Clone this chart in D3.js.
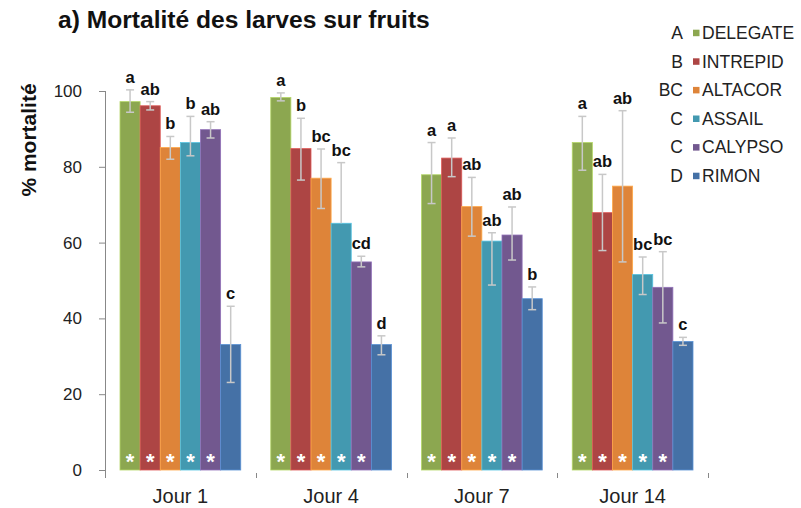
<!DOCTYPE html>
<html><head><meta charset="utf-8">
<script src="https://cdn.jsdelivr.net/npm/d3@7"></script>
<style>body{margin:0;background:#fff;} text{font-family:"Liberation Sans",Arial,sans-serif;}</style>
</head><body>
<svg id="chart" width="801" height="508"></svg>
<script>
// ---- data ----
const days = ["Jour 1", "Jour 4", "Jour 7", "Jour 14"];
const products = ["DELEGATE", "INTREPID", "ALTACOR", "ASSAIL", "CALYPSO", "RIMON"];
const productGroups = ["A", "B", "BC", "C", "C", "D"];
const colors = ["#8ca750", "#ad4544", "#de8439", "#4399b0", "#72588f", "#4571a6"];
// mean % mortality, one array per product, one value per day
const delegate = [97.2, 98.3, 77.9, 86.4];
const intrepid = [96.1, 84.8, 82.3, 67.9];
const altacor  = [85.1, 77.0, 69.5, 74.9];
const assail   = [86.4, 65.1, 60.4, 51.6];
const calypso  = [89.8, 54.9, 62.0, 48.2];
const rimon    = [33.1, 33.1, 45.2, 33.9];
// error bars (upper / lower extent), per product per day
const errUp   = [[3.1, 1.2, 8.5, 6.9], [1.1, 8.0, 5.3, 10.1], [2.9, 7.7, 7.7, 19.9], [6.9, 16.0, 2.2, 4.6], [2.1, 1.5, 7.4, 9.4], [10.1, 2.3, 3.1, 1.1]];
const errDown = [[2.8, 0.9, 7.6, 7.3], [1.1, 8.3, 4.9, 10.0], [3.1, 8.0, 7.8, 20.0], [3.5, 0.0, 11.6, 5.3], [2.2, 1.3, 6.6, 9.4], [10.0, 2.7, 2.9, 1.0]];
// significance letters per day
const letters = [["a","ab","b","b","ab","c"], ["a","b","bc","bc","cd","d"], ["a","a","ab","ab","ab","b"], ["a","ab","ab","bc","bc","c"]];
// asterisk (significant vs. control) per day, per product
const stars = [[1,1,1,1,1,0],[1,1,1,1,1,0],[1,1,1,1,1,0],[1,1,1,1,1,0]];
const yTicks = [0, 20, 40, 60, 80, 100];
const title = "a) Mortalité des larves sur fruits";
const yTitle = "% mortalité";

const values = [delegate, intrepid, altacor, assail, calypso, rimon];
const rows = [];
days.forEach((d, di) => products.forEach((p, pi) => rows.push({
  day: d, di, product: p, pi, v: values[pi][di], up: errUp[pi][di], dn: errDown[pi][di],
  letter: letters[di][pi], star: stars[di][pi]
})));

// ---- layout ----
const svg = d3.select("#chart");
const x0 = d3.scaleBand().domain(days).range([105, 708]);
const x1 = d3.scaleBand().domain(products).range([15, x0.bandwidth() - 15]);
const y = d3.scaleLinear().domain([0, 100]).range([470, 91]);

// title
svg.append("text").attr("x", 58).attr("y", 28).attr("font-size", 24.6).attr("font-weight", "bold")
  .attr("fill", "#111").text(title);

// y axis title
svg.append("text").attr("transform", "translate(36,140) rotate(-90)").attr("text-anchor", "middle")
  .attr("font-size", 21).attr("font-weight", "bold").attr("fill", "#111").text(yTitle);

// y axis
const ya = svg.append("g").attr("transform", "translate(105,0)")
  .call(d3.axisLeft(y).tickValues(yTicks).tickSize(6).tickPadding(17).tickFormat(d3.format("d")));
ya.select(".domain").remove();
ya.selectAll(".tick line").attr("stroke", "#888");
ya.selectAll(".tick text").attr("font-size", 17).attr("fill", "#222").attr("font-family", "Liberation Sans, Arial");
svg.append("line").attr("x1", 105.5).attr("x2", 105.5).attr("y1", y(100)).attr("y2", 478).attr("stroke", "#888");

// x axis labels
const xa = svg.append("g").attr("transform", "translate(0,470)")
  .call(d3.axisBottom(x0).tickSize(0));
xa.select(".domain").remove();
xa.selectAll(".tick text").attr("y", 33).attr("dy", 0).attr("font-size", 20).attr("fill", "#222")
  .attr("font-family", "Liberation Sans, Arial");
// boundary tick marks
svg.append("g").selectAll("line").data(days).join("line")
  .attr("x1", d => Math.round(x0(d) + x0.bandwidth()) + 0.5).attr("x2", d => Math.round(x0(d) + x0.bandwidth()) + 0.5)
  .attr("y1", 473).attr("y2", 478).attr("stroke", "#888");

// bars
const g = svg.append("g");
const bx = d => x0(d.day) + x1(d.product);
g.selectAll("rect").data(rows).join("rect")
  .attr("x", bx).attr("width", x1.bandwidth())
  .attr("y", d => y(d.v)).attr("height", d => y(0) - y(d.v))
  .attr("fill", d => colors[d.pi])
  .attr("stroke", d => d3.color(colors[d.pi]).brighter(0.7)).attr("stroke-width", 0.8);

// error bars
const eb = svg.append("g").attr("stroke", "#c8c8c8").attr("stroke-width", 1.5);
rows.forEach(d => {
  const cx = bx(d) + x1.bandwidth() / 2;
  const t = y(d.v + d.up), b = y(d.v - d.dn);
  eb.append("line").attr("x1", cx).attr("x2", cx).attr("y1", t).attr("y2", b);
  eb.append("line").attr("x1", cx - 4).attr("x2", cx + 4).attr("y1", t).attr("y2", t);
  if (d.dn > 0) eb.append("line").attr("x1", cx - 4).attr("x2", cx + 4).attr("y1", b).attr("y2", b);
});

// letters
svg.append("g").selectAll("text").data(rows).join("text")
  .attr("x", d => bx(d) + x1.bandwidth() / 2).attr("y", d => y(d.v + d.up) - 7)
  .attr("text-anchor", "middle").attr("font-size", 16.5).attr("font-weight", "bold").attr("fill", "#111")
  .text(d => d.letter);

// asterisks
svg.append("g").selectAll("text").data(rows.filter(d => d.star)).join("text")
  .attr("x", d => bx(d) + x1.bandwidth() / 2).attr("y", 469)
  .attr("text-anchor", "middle").attr("font-size", 22).attr("font-weight", "bold").attr("fill", "#fff")
  .text("*");

// legend
const lg = svg.append("g");
products.forEach((p, i) => {
  const cy = 32.7 + i * 28.6;
  lg.append("text").attr("x", 683).attr("y", cy + 6.3).attr("text-anchor", "end")
    .attr("font-size", 17.5).attr("fill", "#222").text(productGroups[i]);
  lg.append("rect").attr("x", 693).attr("y", cy - 3).attr("width", 6.5).attr("height", 6.5).attr("fill", colors[i]);
  lg.append("text").attr("x", 702).attr("y", cy + 6.3).attr("font-size", 17.5).attr("fill", "#222").text(p);
});
</script>
</body></html>
